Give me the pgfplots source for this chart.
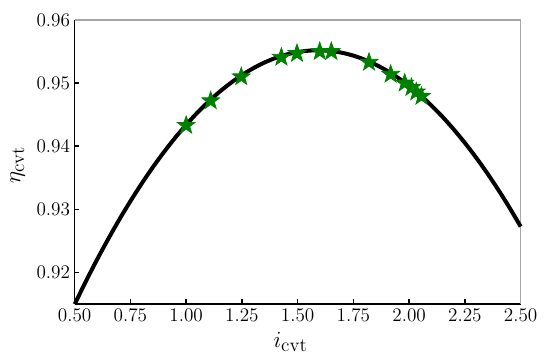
\documentclass[border=0pt]{standalone}
\usepackage{pgfplots}
\pgfplotsset{compat=1.18}
\definecolor{stargreen}{RGB}{0,128,0}
\pgfdeclareplotmark{fstar}{%
  \pgfpathmoveto{\pgfpointpolar{90}{\pgfplotmarksize}}%
  \pgfpathlineto{\pgfpointpolar{126}{0.40\pgfplotmarksize}}%
  \pgfpathlineto{\pgfpointpolar{162}{\pgfplotmarksize}}%
  \pgfpathlineto{\pgfpointpolar{198}{0.40\pgfplotmarksize}}%
  \pgfpathlineto{\pgfpointpolar{234}{\pgfplotmarksize}}%
  \pgfpathlineto{\pgfpointpolar{270}{0.40\pgfplotmarksize}}%
  \pgfpathlineto{\pgfpointpolar{306}{\pgfplotmarksize}}%
  \pgfpathlineto{\pgfpointpolar{342}{0.40\pgfplotmarksize}}%
  \pgfpathlineto{\pgfpointpolar{18}{\pgfplotmarksize}}%
  \pgfpathlineto{\pgfpointpolar{54}{0.40\pgfplotmarksize}}%
  \pgfpathclose
  \pgfusepathqfillstroke
}
\begin{document}
\begin{tikzpicture}
\begin{axis}[
  name=ax,
  scale only axis,
  width=334.5pt, height=213pt,
  xmin=0.5, xmax=2.5, ymin=0.915, ymax=0.96,
  xtick={0.5,0.75,1,1.25,1.5,1.75,2,2.25,2.5},
  ytick={0.92,0.93,0.94,0.95,0.96},
  xticklabel style={/pgf/number format/.cd, fixed, fixed zerofill, precision=2},
  yticklabel style={/pgf/number format/.cd, fixed, fixed zerofill, precision=2},
  tick label style={font=\fontsize{15.5}{18}\selectfont},
  axis x line*=bottom, axis y line*=left,
  axis line style={black, line width=1.1pt},
  tick align=inside, tick style={black, line width=1.1pt}, major tick length=3.5pt,
  xlabel={$i_{\mathrm{cvt}}$}, ylabel={$\eta_{\mathrm{cvt}}$},
  label style={font=\fontsize{19}{22}\selectfont},
  xlabel style={at={(axis description cs:0.484,-0.134)}, anchor=center},
  ylabel style={at={(axis description cs:-0.128,0.49)}, anchor=center},
  clip=false,
]
\draw[gray!70, line width=0.8pt] (rel axis cs:0,1) -- (rel axis cs:1,1) -- (rel axis cs:1,0);
\addplot[black, line width=3pt, smooth] coordinates {
(0.50,0.91497) (0.55,0.91857) (0.60,0.92201) (0.65,0.92527) (0.70,0.92837)
(0.75,0.93129) (0.80,0.93405) (0.85,0.93664) (0.90,0.93906) (0.95,0.94131)
(1.00,0.94339) (1.05,0.94531) (1.10,0.94705) (1.15,0.94863) (1.20,0.95003)
(1.25,0.95127) (1.30,0.95234) (1.35,0.95324) (1.40,0.95397) (1.45,0.95453)
(1.50,0.95492) (1.55,0.95514) (1.60,0.95520) (1.65,0.95508) (1.70,0.95480)
(1.75,0.95435) (1.80,0.95372) (1.85,0.95293) (1.90,0.95197) (1.95,0.95084)
(2.00,0.94955) (2.05,0.94808) (2.10,0.94644) (2.15,0.94464) (2.20,0.94266)
(2.25,0.94052) (2.30,0.93821) (2.35,0.93573) (2.40,0.93308) (2.45,0.93026)
(2.50,0.92727)
};
\addplot[only marks, mark=fstar, mark size=7pt, stargreen, mark options={fill=stargreen, draw=stargreen, line width=0.6pt}] coordinates {
(1.000,0.9433) (1.110,0.9472) (1.247,0.9510) (1.427,0.9541) (1.497,0.9547)
(1.599,0.9550) (1.651,0.9550) (1.820,0.9533) (1.917,0.9514) (1.980,0.9500)
(2.010,0.9493) (2.032,0.9486) (2.055,0.9479)
};
\end{axis}
\path (ax.south west) ++(-56pt,-39pt);
\path (ax.north east) ++(22pt,15pt);
\end{tikzpicture}
\end{document}
